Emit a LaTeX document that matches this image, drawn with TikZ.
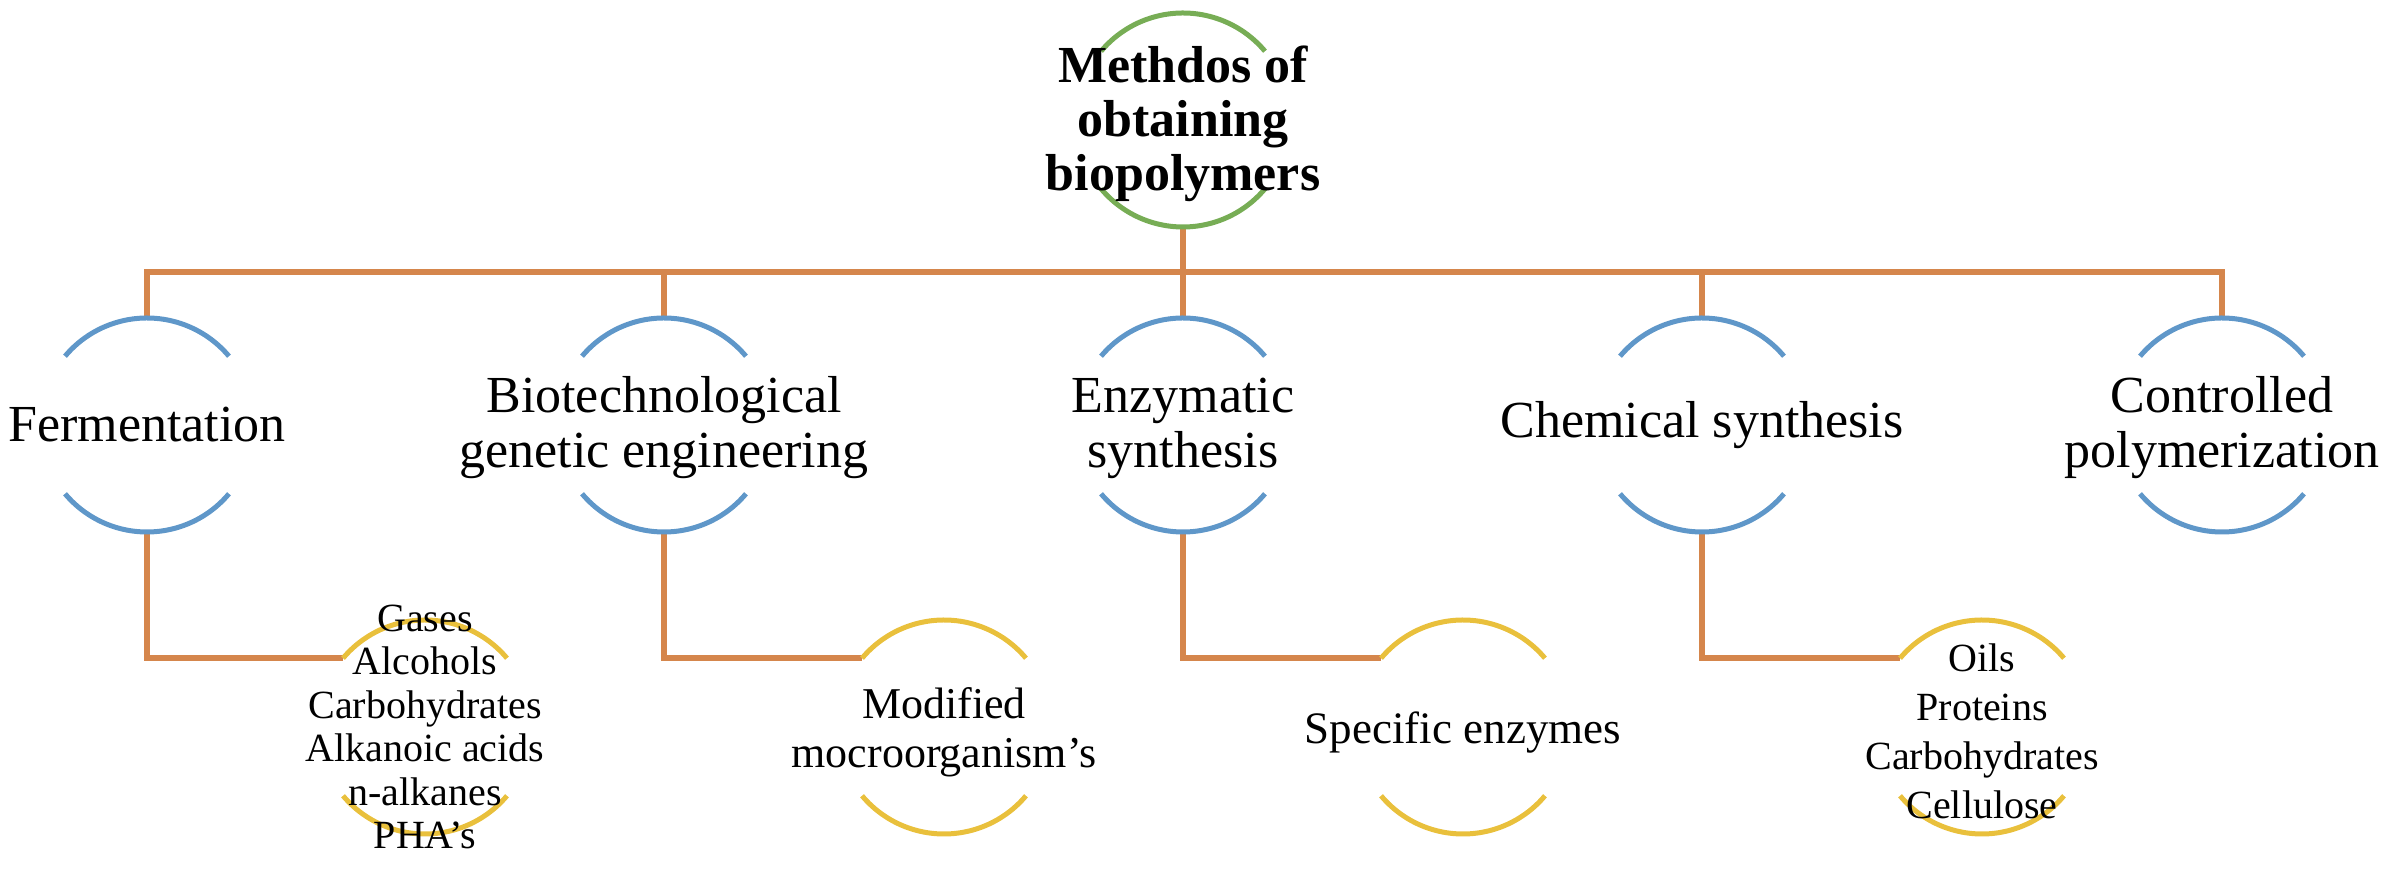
\documentclass[tikz,border=0pt]{standalone}
\usepackage{fontspec}
\setmainfont{Liberation Serif}
\definecolor{arcblue}{HTML}{5F97C9}
\definecolor{connorange}{HTML}{D5864C}
\definecolor{arcyellow}{HTML}{E9C03C}
\definecolor{arcgreen}{HTML}{77AD55}
\newcommand\arcpair[2]{%
  \draw[#2] (#1.40) arc[start angle=40,end angle=140,radius=107]
            (#1.-140) arc[start angle=-140,end angle=-40,radius=107];}
\begin{document}
\begin{tikzpicture}[x=1pt,y=1pt,
  ring/.style={circle,minimum size=214pt,inner sep=0pt,outer sep=0pt},
  conn/.style={draw=connorange,line width=5.5pt},
  bluearc/.style={draw=arcblue,line width=5pt},
  yelarc/.style={draw=arcyellow,line width=5pt},
  grnarc/.style={draw=arcgreen,line width=5pt},
  lbl/.style={align=center,inner sep=0pt,text=black},
  big/.style={lbl,font=\fontsize{52}{55}\selectfont},
  rootlbl/.style={lbl,font=\fontsize{52}{54}\selectfont\bfseries},
  small/.style={lbl,font=\fontsize{40}{43.5}\selectfont},
  oilsty/.style={lbl,font=\fontsize{40}{49}\selectfont},
  mid/.style={lbl,font=\fontsize{44}{49}\selectfont}]
\useasboundingbox (0,0) rectangle (2386,872);
% circles (positions)
\node[ring] (root) at (1183,752) {};
\node[ring] (ferm) at (147,447) {};
\node[ring] (bio)  at (664,447) {};
\node[ring] (enz)  at (1183,447) {};
\node[ring] (chem) at (1702,447) {};
\node[ring] (ctrl) at (2222,447) {};
\node[ring] (prod) at (425,145) {};
\node[ring] (modi) at (944,145) {};
\node[ring] (spec) at (1463,145) {};
\node[ring] (oils) at (1982,145) {};
\coordinate (bus) at (1183,600);
% connectors
\draw[conn] (root.south) -- (enz.north);
\draw[conn] (ferm.north) |- (bus) -| (ctrl.north);
\draw[conn] (bio.north) -- (bio.north |- bus);
\draw[conn] (chem.north) -- (chem.north |- bus);
\draw[conn] (ferm.south) |- (prod.140);
\draw[conn] (bio.south) |- (modi.140);
\draw[conn] (enz.south) |- (spec.140);
\draw[conn] (chem.south) |- (oils.140);
% arcs
\arcpair{root}{grnarc}
\arcpair{ferm}{bluearc}
\arcpair{bio}{bluearc}
\arcpair{enz}{bluearc}
\arcpair{chem}{bluearc}
\arcpair{ctrl}{bluearc}
\arcpair{prod}{yelarc}
\arcpair{modi}{yelarc}
\arcpair{spec}{yelarc}
\arcpair{oils}{yelarc}
% texts
\node[rootlbl] (rootT) at ([yshift=-4pt]root.center) {Methdos of\\obtaining\\biopolymers};
\node[big] (fermT) at (ferm) {Fermentation};
\node[big] (bioT) at ([yshift=-3pt]bio.center) {Biotechnological\\genetic engineering};
\node[big] (enzT) at ([yshift=-3pt]enz.center) {Enzymatic\\synthesis};
\node[big] (chemT) at (chem) {Chemical synthesis};
\node[big] (ctrlT) at ([yshift=-3pt]ctrl.center) {Controlled\\polymerization};
\node[small] (prodT) at (prod) {Gases\\Alcohols\\Carbohydrates\\Alkanoic acids\\n-alkanes\\PHA’s};
\node[mid] (modiT) at ([yshift=-5pt]modi.center) {Modified\\mocroorganism’s};
\node[mid,font=\fontsize{45}{49}\selectfont] (specT) at ([yshift=-6pt]spec.center) {Specific enzymes};
\node[oilsty] (oilsT) at ([yshift=-4pt]oils.center) {Oils\\Proteins\\Carbohydrates\\Cellulose};
\end{tikzpicture}
\end{document}
